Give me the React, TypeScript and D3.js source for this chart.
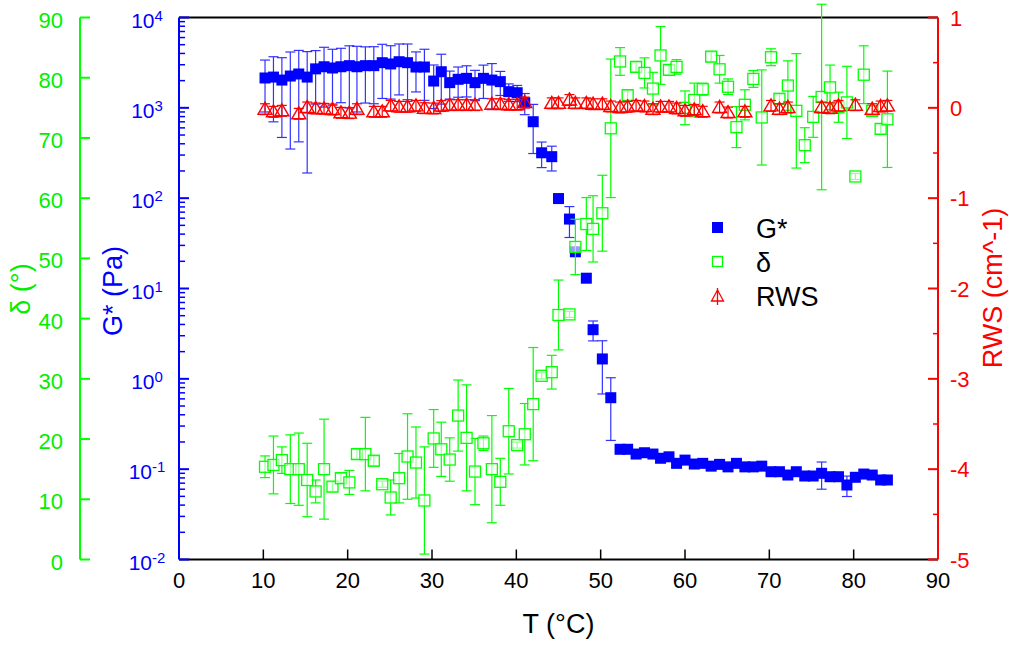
import React from "react";
import * as d3 from "d3";

// ---------- data ----------
const temps = [10.2, 11.2, 12.2, 13.2, 14.2, 15.2, 16.2, 17.2, 18.2, 19.2,
  20.2, 21.1, 22.1, 23.1, 24.1, 25.1, 26.1, 27.1, 28.1, 29.1,
  30.2, 31.1, 32.1, 33.1, 34.1, 35.1, 36.1, 37.1, 38.1, 39.1,
  40.1, 41.0, 42.0, 43.0, 44.2, 45.0, 46.3, 47.0, 48.3, 49.1,
  50.2, 51.2, 52.3, 53.2, 54.2, 55.2, 56.2, 57.1, 58.1, 59.0,
  60.0, 61.1, 62.1, 63.1, 64.1, 65.1, 66.1, 67.1, 68.1, 69.1,
  70.2, 71.2, 72.2, 73.2, 74.2, 75.2, 76.2, 77.2, 78.2, 79.2,
  80.2, 81.2, 82.2, 83.2, 84.0];

const gStar = [2140, 2190, 2030, 2250, 2370, 2190, 2700, 2850, 2760, 2850,
  2930, 2850, 2930, 2930, 3160, 3060, 3240, 3160, 2830, 2830,
  1980, 2510, 1900, 2070, 2120, 1900, 2120, 2030, 1950, 1510,
  1470, 1140, 702, 318, 288, 99, 58.7, 25.5, 13.0, 3.5,
  1.66, 0.618, 0.166, 0.166, 0.147, 0.152, 0.147, 0.132, 0.137, 0.116,
  0.126, 0.114, 0.116, 0.108, 0.113, 0.106, 0.116, 0.106, 0.106, 0.108,
  0.0937, 0.0937, 0.0861, 0.0937, 0.084, 0.084, 0.09, 0.0825, 0.0825, 0.0668,
  0.0813, 0.0883, 0.0861, 0.0759, 0.0759];

const gStarErr = [1240, 1490, 1560, 1900, 1950, 2000, 1600, 1830, 1690, 1710,
  1930, 1950, 1800, 1820, 1890, 1810, 1850, 1930, 1330, 1620,
  1000, 1410, 650, 760, 800, 700, 850, 1060, 580, 330,
  300, 300, 390, 100, 88, 0, 22, 0, 0, 0.87,
  0.98, 0.41, 0, 0, 0, 0, 0, 0, 0, 0,
  0, 0, 0, 0, 0, 0, 0, 0, 0, 0,
  0, 0, 0, 0, 0, 0, 0.03, 0, 0, 0.017,
  0, 0, 0, 0, 0];

const delta = [15.4, 15.7, 16.5, 15.0, 15.0, 13.2, 11.3, 15.0, 12.1, 13.5,
  12.8, 17.5, 17.5, 16.4, 12.5, 10.3, 13.5, 17.1, 16.1, 9.8,
  20.1, 18.3, 16.6, 23.9, 20.2, 14.6, 19.3, 15.0, 12.9, 21.3,
  19.0, 20.8, 25.8, 30.5, 31.1, 40.6, 40.7, 51.9, 55.7, 54.9,
  57.5, 71.6, 82.7, 77.1, 81.8, 80.8, 78.2, 83.7, 81.3, 81.8,
  75.0, 76.3, 78.1, 83.5, 81.4, 78.5, 71.8, 75.5, 79.8, 73.4,
  83.4, 76.5, 78.7, 74.5, 68.8, 73.5, 76.8, 78.4, 75.1, 75.9,
  63.6, 80.5, 74.5, 71.5, 73.1];

const deltaErr = [1.8, 4.8, 2.2, 5.7, 6.0, 6.1, 1.9, 8.3, 0.8, 0.8,
  2.0, 0.8, 6.1, 0.8, 0.5, 2.9, 4.1, 7.1, 5.9, 8.9,
  4.8, 4.5, 3.6, 5.9, 8.8, 5.5, 1.2, 8.9, 3.9, 7.1,
  0.5, 5.1, 9.4, 0.5, 2.8, 5.8, 0.5, 4.6, 4.4, 5.5,
  6.3, 11.5, 2.3, 0.8, 0.8, 2.5, 2.7, 4.8, 0.8, 1.2,
  2.8, 2.8, 1.0, 0.8, 2.3, 1.3, 3.4, 2.5, 1.4, 7.9,
  1.4, 0.8, 4.1, 9.5, 2.9, 3.4, 15.4, 3.7, 2.5, 6.0,
  0.5, 4.8, 0.8, 0.8, 8.0];

const rws: (number | null)[] = [-0.015, -0.044, -0.033, null, -0.066, 0.004, -0.007, -0.011, -0.018, -0.055,
  -0.059, -0.015, null, -0.044, -0.044, 0.022, 0.011, 0.011, 0.022, -0.004,
  -0.007, 0.02, 0.03, 0.03, 0.03, 0.03, null, 0.04, 0.04, 0.034,
  0.034, 0.059, null, null, 0.05, 0.05, 0.087, 0.05, 0.05, 0.04,
  0.04, 0.015, 0.004, 0.011, 0.022, 0.015, -0.015, 0.011, 0.011, -0.007,
  -0.033, -0.022, -0.043, null, 0.004, -0.052, null, -0.044, null, null,
  0.022, -0.015, 0.004, null, null, null, 0.004, -0.005, 0.022, null,
  0.029, null, -0.015, 0.015, 0.022];

const rwsErr = 0.06;

const xTicks = [0, 10, 20, 30, 40, 50, 60, 70, 80, 90];
const deltaTicks = [0, 10, 20, 30, 40, 50, 60, 70, 80, 90];
const gExponents = [-2, -1, 0, 1, 2, 3, 4];
const rwsTicks = [-5, -4, -3, -2, -1, 0, 1];
const legendItems = ["G*", "δ", "RWS"];

// ---------- layout ----------
const W = 1009, H = 645;
const X0 = 179, X1 = 938, Y0 = 559.5, Y1 = 17.5;
const BLUE = "#0000ff", GREEN = "#00ff00", RED = "#ff0000";
const GREEN_TXT = "#00ee00";
const FONT = "'Liberation Sans', Arial, Helvetica, sans-serif";
const TICK_FS = 22;
const TITLE_FS = 27;

export default function App() {
  const x = d3.scaleLinear().domain([0, 90]).range([X0, X1]);
  const yG = d3.scaleLog().domain([1e-2, 1e4]).range([Y0, Y1]);
  const yD = d3.scaleLinear().domain([0, 90]).range([Y0, Y1]);
  const yR = d3.scaleLinear().domain([-5, 1]).range([Y0, Y1]);

  const cap = 5;
  const sq = 11;

  const gMinor: number[] = [];
  for (let e = -2; e < 4; e++) for (let m = 2; m <= 9; m++) gMinor.push(m * Math.pow(10, e));
  const rMinor = d3.range(-4.5, 1, 1);

  const errBar = (cx: number, ya: number, yb: number, color: string, key: string, op = 1) => (
    <g key={key} stroke={color} strokeWidth={1.2} opacity={op}>
      <line x1={cx} x2={cx} y1={ya} y2={yb} />
      <line x1={cx - cap} x2={cx + cap} y1={ya} y2={ya} />
      <line x1={cx - cap} x2={cx + cap} y1={yb} y2={yb} />
    </g>
  );

  const tri = (cx: number, cy: number) =>
    `M${cx},${cy - 7} L${cx + 7},${cy + 5} L${cx - 7},${cy + 5} Z`;

  return (
    <div style={{ position: "fixed", left: 0, top: 0 }}>
      <svg width={W} height={H} style={{ display: "block", background: "#fff" }} fontFamily={FONT}>
        {/* frame top & bottom */}
        <line x1={X0} x2={X1} y1={Y1} y2={Y1} stroke="#000" strokeWidth={2} />
        <line x1={X0} x2={X1} y1={Y0} y2={Y0} stroke="#000" strokeWidth={2} />
        {xTicks.map((t) => (
          <g key={"xt" + t}>
            {t > 0 && t < 90 && <line x1={x(t)} x2={x(t)} y1={Y0} y2={Y0 - 10} stroke="#000" strokeWidth={1.5} />}
            <text x={x(t)} y={588} fontSize={TICK_FS} textAnchor="middle" fill="#000">{t}</text>
          </g>
        ))}
        <text x={(X0 + X1) / 2} y={633} fontSize={TITLE_FS} textAnchor="middle" fill="#000">T (°C)</text>

        {/* green delta axis */}
        <line x1={80} x2={80} y1={Y1} y2={Y0} stroke={GREEN} strokeWidth={2} />
        {deltaTicks.map((t) => (
          <g key={"dt" + t}>
            <line x1={80} x2={90} y1={yD(t)} y2={yD(t)} stroke={GREEN} strokeWidth={2} />
            <text x={63} y={yD(t) + 10} fontSize={TICK_FS} textAnchor="end" fill={GREEN_TXT}>{t}</text>
          </g>
        ))}
        <text transform={`translate(21,289) rotate(-90)`} fontSize={TITLE_FS} textAnchor="middle" dominantBaseline="central" fill={GREEN_TXT}>δ (°)</text>

        {/* blue G* axis */}
        <line x1={X0} x2={X0} y1={Y1} y2={Y0} stroke={BLUE} strokeWidth={2} />
        {gMinor.map((v, i) => (
          <line key={"gm" + i} x1={X0} x2={X0 + 6} y1={yG(v)} y2={yG(v)} stroke={BLUE} strokeWidth={1.5} />
        ))}
        {gExponents.map((e) => (
          <g key={"ge" + e}>
            <line x1={X0} x2={X0 + 10} y1={yG(Math.pow(10, e))} y2={yG(Math.pow(10, e))} stroke={BLUE} strokeWidth={2} />
            <text x={147} y={yG(Math.pow(10, e)) + 10} fontSize={21} textAnchor="middle" fill={BLUE}>
              10<tspan fontSize={15} dy={-7}>{e}</tspan>
            </text>
          </g>
        ))}
        <text transform={`translate(113,291) rotate(-90)`} fontSize={TITLE_FS} textAnchor="middle" dominantBaseline="central" fill={BLUE}>G* (Pa)</text>

        {/* red RWS axis */}
        <line x1={X1} x2={X1} y1={Y1} y2={Y0} stroke={RED} strokeWidth={2} />
        {rMinor.map((v, i) => (
          <line key={"rm" + i} x1={X1} x2={X1 - 5} y1={yR(v)} y2={yR(v)} stroke={RED} strokeWidth={1.5} />
        ))}
        {rwsTicks.map((t) => (
          <g key={"rt" + t}>
            <line x1={X1} x2={X1 - 10} y1={yR(t)} y2={yR(t)} stroke={RED} strokeWidth={2} />
            <text x={950} y={yR(t) + 8} fontSize={TICK_FS} textAnchor="start" fill={RED}>{t}</text>
          </g>
        ))}
        <text transform={`translate(993,288) rotate(-90)`} fontSize={TITLE_FS} textAnchor="middle" dominantBaseline="central" fill={RED}>RWS (cm^-1)</text>

        {/* G* error bars and points */}
        {temps.map((t, i) =>
          gStarErr[i] > 0
            ? errBar(x(t), yG(gStar[i] + gStarErr[i]), yG(Math.max(gStar[i] - gStarErr[i], 1e-2)), BLUE, "ge" + i, 0.8)
            : null
        )}
        {temps.map((t, i) => (
          <rect key={"gp" + i} x={x(t) - sq / 2} y={yG(gStar[i]) - sq / 2} width={sq} height={sq} fill={BLUE} />
        ))}

        {/* delta error bars and points */}
        {temps.map((t, i) =>
          errBar(x(t), yD(delta[i] + deltaErr[i]), yD(delta[i] - deltaErr[i]), GREEN, "de" + i)
        )}
        {temps.map((t, i) => (
          <rect key={"dp" + i} x={x(t) - sq / 2} y={yD(delta[i]) - sq / 2} width={sq} height={sq}
            fill="#fff" fillOpacity={0.6} stroke={GREEN} strokeWidth={1.3} />
        ))}

        {/* RWS error bars and points */}
        {temps.map((t, i) =>
          rws[i] === null ? null : errBar(x(t), yR((rws[i] as number) + rwsErr), yR((rws[i] as number) - rwsErr), RED, "re" + i)
        )}
        {temps.map((t, i) =>
          rws[i] === null ? null : (
            <path key={"rp" + i} d={tri(x(t), yR(rws[i] as number))} fill="none" stroke={RED} strokeWidth={1.4} />
          )
        )}

        {/* legend */}
        {legendItems.map((name, i) => {
          const cy = [228, 262, 296][i];
          return (
            <g key={"lg" + i}>
              {i === 0 && <rect x={712} y={cy - 6} width={11} height={11} fill={BLUE} />}
              {i === 1 && <rect x={712.5} y={cy - 5.5} width={10} height={10} fill="#fff" stroke={GREEN} strokeWidth={1.3} />}
              {i === 2 && (
                <g stroke={RED} strokeWidth={1.3} fill="none">
                  <path d={`M717.5,${cy - 6} L723.5,${cy + 5} L711.5,${cy + 5} Z`} />
                  <line x1={717.5} x2={717.5} y1={cy - 8} y2={cy + 9} />
                </g>
              )}
              <text x={756} y={cy + 10} fontSize={TITLE_FS} fill="#000">{name}</text>
            </g>
          );
        })}
      </svg>
    </div>
  );
}
